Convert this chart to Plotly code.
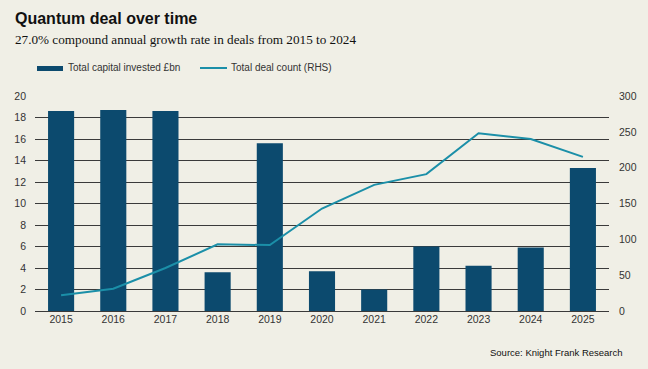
import plotly.graph_objects as go

years = ["2015", "2016", "2017", "2018", "2019", "2020", "2021", "2022", "2023", "2024", "2025"]
capital_bn = [18.6, 18.7, 18.6, 3.6, 15.6, 3.7, 2.0, 6.0, 4.2, 5.9, 13.3]
deal_count = [22, 31, 60, 93, 92, 143, 176, 191, 248, 240, 215]

title = "Quantum deal over time"
subtitle = "27.0% compound annual growth rate in deals from 2015 to 2024"
source = "Source: Knight Frank Research"
bar_name = "Total capital invested £bn"
line_name = "Total deal count (RHS)"

BG = "#f0efe6"
BAR = "#0c4a6e"
LINE = "#1b8fa8"
TXT = "#333333"
FONT = "Liberation Sans, Arial, sans-serif"

W, H = 648, 369
ML, MR, MT, MB = 35, 39, 96, 58
pw = W - ML - MR
ph = H - MT - MB

def px2paper(px, py):
    return (px - ML) / pw, 1 - (py - MT) / ph

fig = go.Figure()
fig.add_trace(go.Bar(x=years, y=capital_bn, name=bar_name, marker_color=BAR,
                     marker_line_width=0, width=0.5, yaxis="y"))
fig.add_trace(go.Scatter(x=years, y=deal_count, name=line_name, mode="lines",
                         line=dict(color=LINE, width=2), yaxis="y2"))

fig.update_layout(
    width=W, height=H,
    paper_bgcolor=BG, plot_bgcolor=BG,
    margin=dict(l=ML, r=MR, t=MT, b=MB),
    showlegend=False,
    font=dict(family=FONT, size=10.5, color=TXT),
    xaxis=dict(type="category", showgrid=False, showline=False, ticks="",
               tickfont=dict(size=10.5, color=TXT)),
    yaxis=dict(range=[0, 20], dtick=2, showgrid=True, gridcolor="#3a3a3a",
               gridwidth=1, zeroline=True, zerolinecolor="#3a3a3a", zerolinewidth=1,
               ticks="", ticklabelstandoff=8,
               tickfont=dict(size=10.5, color=TXT)),
    yaxis2=dict(range=[0, 300], dtick=50, overlaying="y", side="right",
                showgrid=False, zeroline=False, ticks="", ticklabelstandoff=9,
                tickfont=dict(size=10.5, color=TXT)),
    bargap=0.5,
)

texts = [
    ("<b>" + title + "</b>", 13, 18, "left", FONT, 16, "#111111"),
    (subtitle, 13, 40, "left", "Liberation Serif, Georgia, serif", 13.2, "#111111"),
    (bar_name, 66, 68, "left", FONT, 10, TXT),
    (line_name, 229, 68, "left", FONT, 10, TXT),
    (source, 625, 352, "right", FONT, 9.5, "#111111"),
]
for t, x, y, xa, fam, sz, col in texts:
    px_, py_ = px2paper(x, y)
    fig.add_annotation(text=t, x=px_, y=py_, xref="paper", yref="paper",
                       xanchor=xa, yanchor="middle", showarrow=False,
                       font=dict(family=fam, size=sz, color=col))

x0, y0 = px2paper(37, 71)
x1, y1 = px2paper(63, 66)
fig.add_shape(type="rect", xref="paper", yref="paper", x0=x0, y0=y0, x1=x1, y1=y1,
              fillcolor=BAR, line_width=0)
lx0, ly = px2paper(200, 68)
lx1, _ = px2paper(227, 68)
fig.add_shape(type="line", xref="paper", yref="paper", x0=lx0, y0=ly, x1=lx1, y1=ly,
              line=dict(color=LINE, width=2))

fig.write_html("out.html", config={"displayModeBar": False},
               post_script="document.body.style.margin='0';")
